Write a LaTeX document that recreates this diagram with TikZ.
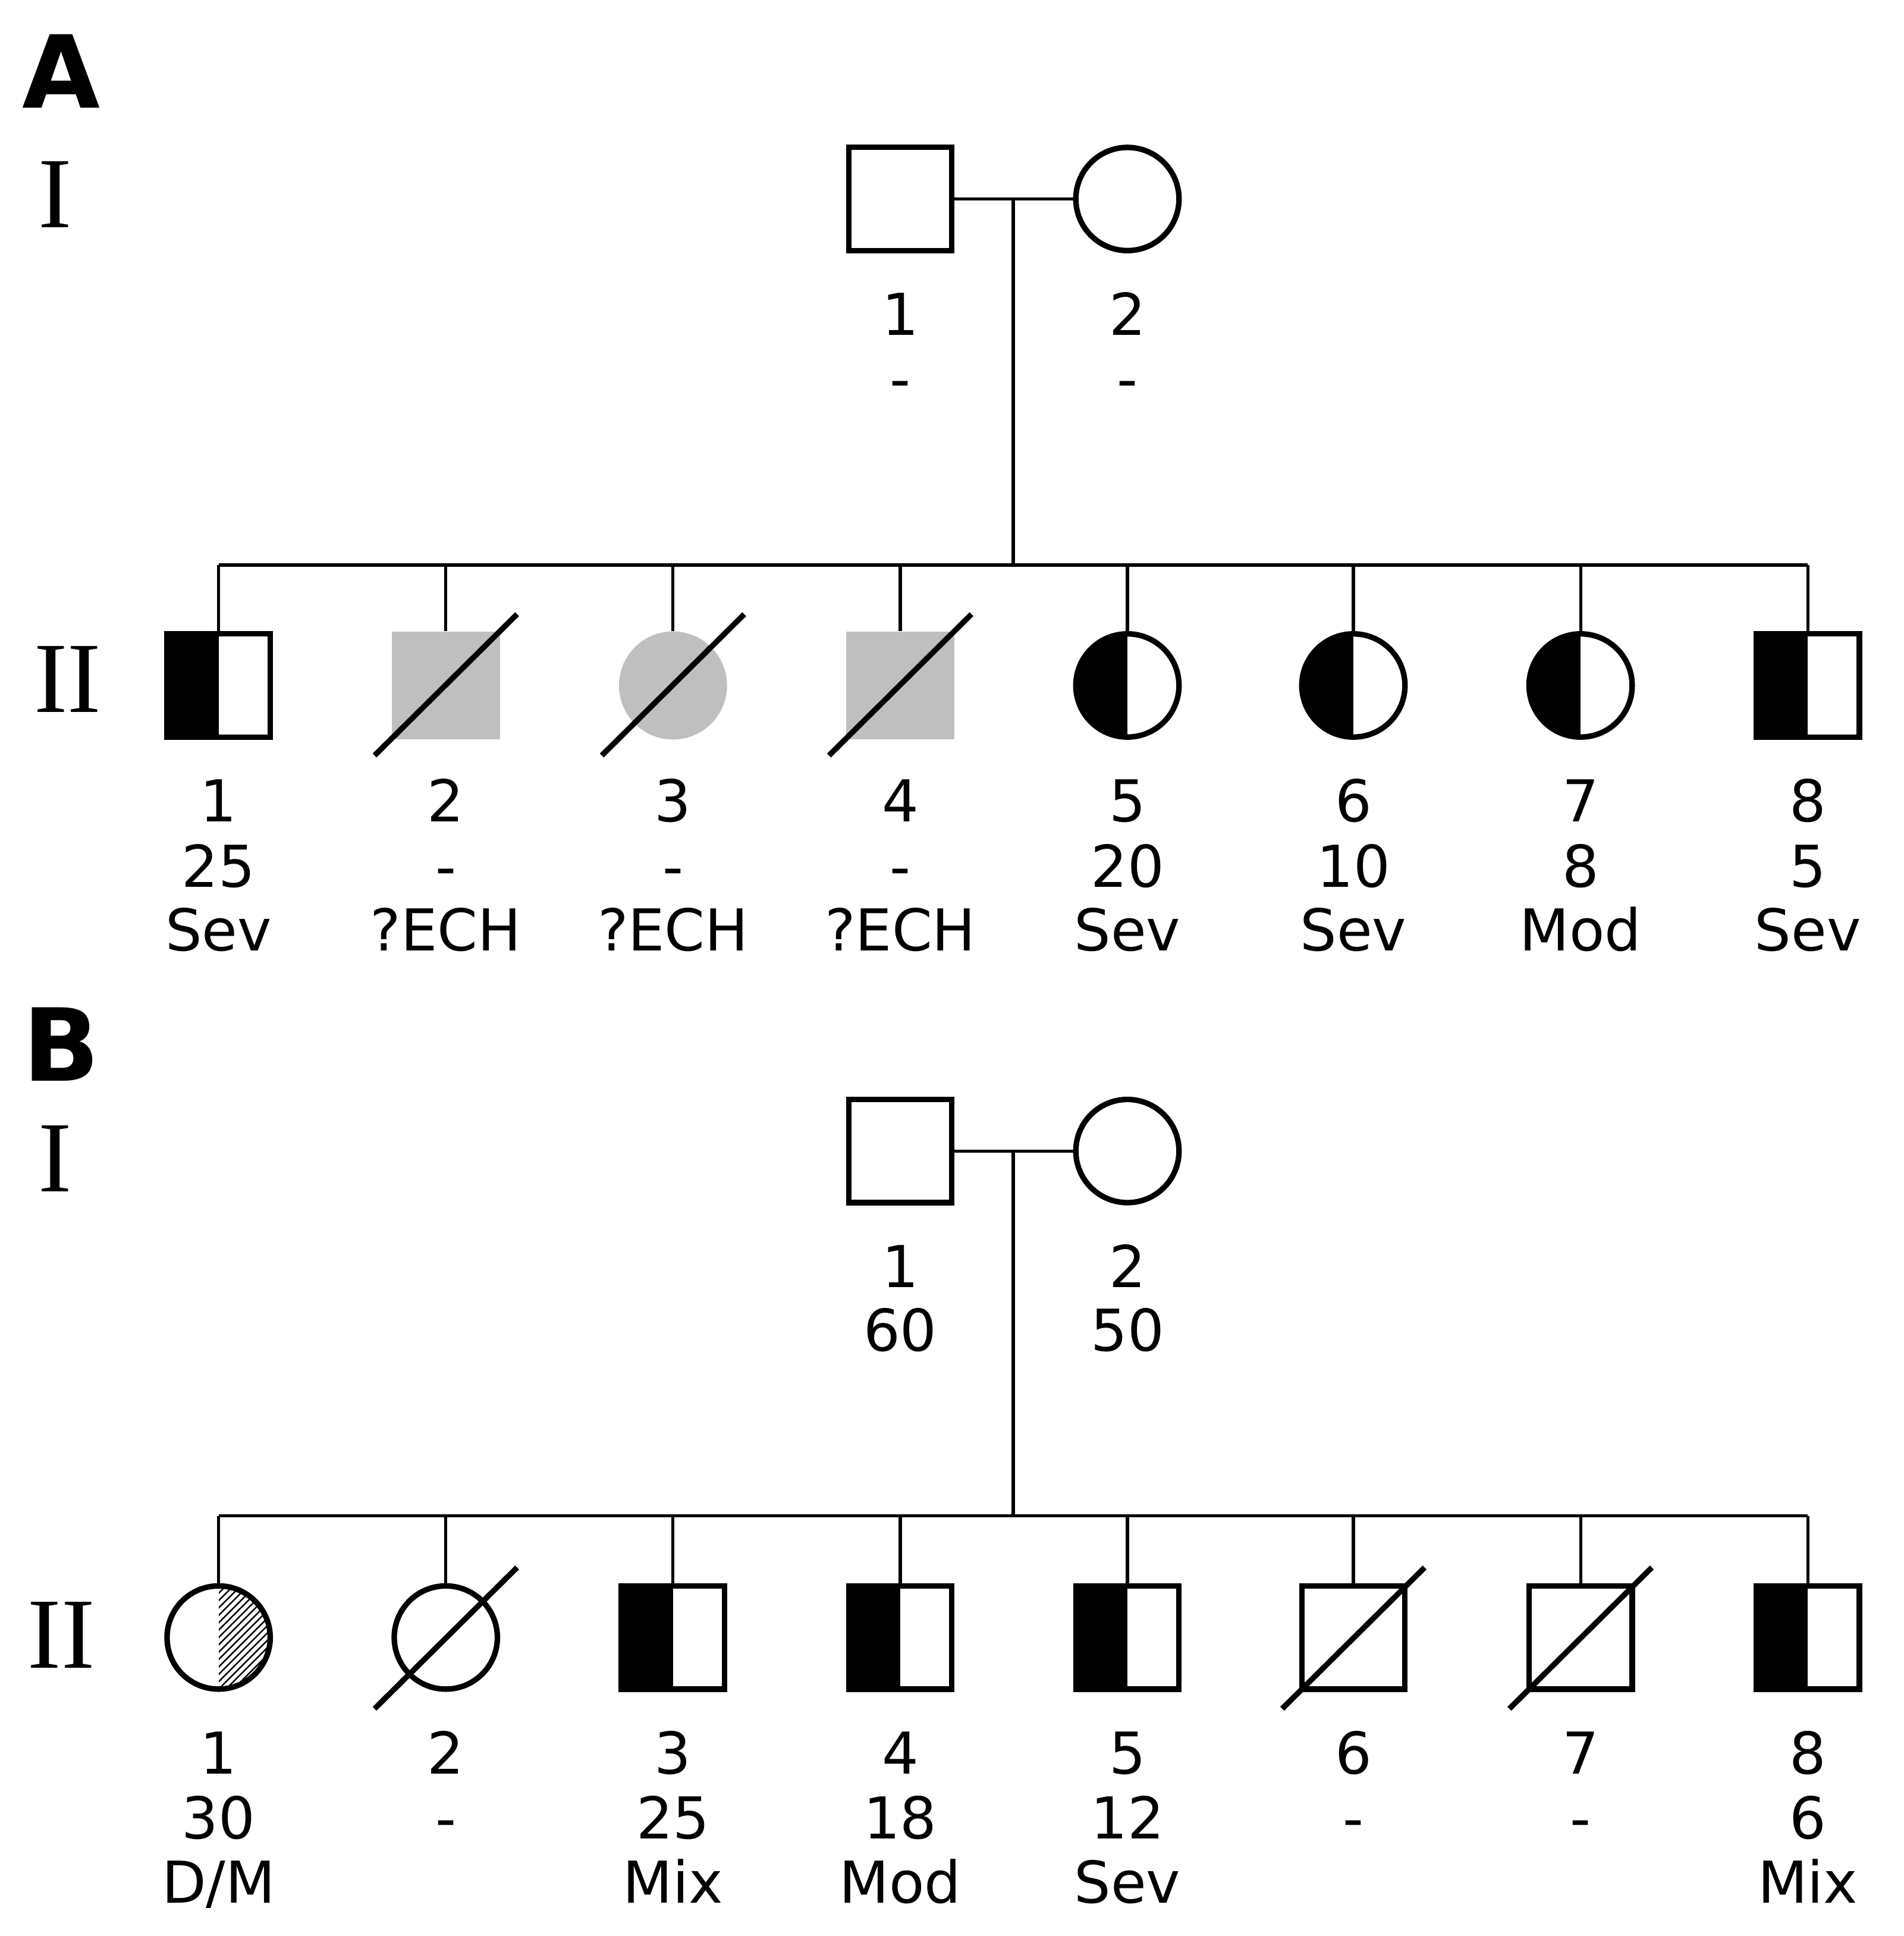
\documentclass[tikz,border=0pt]{standalone}
\usepackage{fontspec}
\setmainfont{DejaVu Sans}
\newfontfamily\romfont{Liberation Serif}
\begin{document}
\begin{tikzpicture}[x=1pt,y=-1pt,
 sym/.style={draw,line width=4.5pt,minimum size=84pt,inner sep=0pt},
 sq/.style={sym,rectangle},
 ci/.style={sym,circle},
 hl/.style={path picture={\fill (path picture bounding box.south west) rectangle (path picture bounding box.north);}},
 hatch/.style={path picture={\foreach \k in {-90,-84,...,90}{\draw[line width=1.2pt] ([xshift=\k pt]path picture bounding box.center) ++(-50,50) -- ++(100,-100);}
   \fill[white] (path picture bounding box.south west) rectangle (path picture bounding box.north);}},
 gsq/.style={rectangle,fill=black!25,minimum size=88pt,inner sep=0pt},
 gci/.style={circle,fill=black!25,minimum size=88pt,inner sep=0pt},
 conn/.style={line width=2.5pt},
 dec/.style={line width=4.5pt},
 lab/.style={font=\fontsize{47}{50}\selectfont,anchor=base},
 gen/.style={font=\romfont\fontsize{82}{82}\selectfont,anchor=base},
 pan/.style={font=\bfseries\fontsize{82}{82}\selectfont,anchor=base}]
\useasboundingbox (0,0) rectangle (1550,1576);
% ---------- A ----------
\node[pan] (pA) at (50,88) {A};
\node[gen] (gAI) at (45,185) {I};
\node[gen] (gAII) at (55,580) {II};
\node[sq] (a1) at (733,162) {};
\node[ci] (a2) at (918,162) {};
\draw[conn] (a1.east) -- (a2.west);
\coordinate (am) at (825,162);
\coordinate (as) at (825,460);
\draw[conn] (am) -- (as);
\coordinate (asl) at (178,460); \coordinate (asr) at (1472,460);
\draw[conn] (asl) -- (asr);
\node[lab] at (733,273) {1}; \node[lab] at (733,325) {-};
\node[lab] at (918,273) {2}; \node[lab] at (918,325) {-};
\node[sq,hl] (b1) at (178,558) {};
\node[gsq] (b2) at (363,558) {};
\node[gci] (b3) at (548,558) {};
\node[gsq] (b4) at (733,558) {};
\node[ci,hl] (b5) at (918,558) {};
\node[ci,hl] (b6) at (1102,558) {};
\node[ci,hl] (b7) at (1287,558) {};
\node[sq,hl] (b8) at (1472,558) {};
\foreach \n/\x in {1/178,2/363,3/548,4/733,5/918,6/1102,7/1287,8/1472}{
  \coordinate (at\n) at (\x,460);
  \draw[conn] (at\n) -- (b\n.north);}
\foreach \x in {363,548,733}{\draw[dec] (\x-58,615) -- (\x+58,500);}
\foreach \x/\a/\b/\c in {178/1/25/Sev,363/2/-/?ECH,548/3/-/?ECH,733/4/-/?ECH,918/5/20/Sev,1102/6/10/Sev,1287/7/8/Mod,1472/8/5/Sev}{
  \node[lab] at (\x,669) {\a}; \node[lab] at (\x,722) {\b}; \node[lab] at (\x,774) {\c};}
% ---------- B ----------
\node[pan] (pB) at (50,880) {B};
\node[gen] (gBI) at (45,970) {I};
\node[gen] (gBII) at (50,1358) {II};
\node[sq] (c1) at (733,937) {};
\node[ci] (c2) at (918,937) {};
\draw[conn] (c1.east) -- (c2.west);
\coordinate (bm) at (825,937);
\coordinate (bs) at (825,1234);
\draw[conn] (bm) -- (bs);
\coordinate (bsl) at (178,1234); \coordinate (bsr) at (1472,1234);
\draw[conn] (bsl) -- (bsr);
\node[lab] at (733,1048) {1}; \node[lab] at (733,1100) {60};
\node[lab] at (918,1048) {2}; \node[lab] at (918,1100) {50};
\node[ci,hatch] (d1) at (178,1333) {};
\node[ci] (d2) at (363,1333) {};
\node[sq,hl] (d3) at (548,1333) {};
\node[sq,hl] (d4) at (733,1333) {};
\node[sq,hl] (d5) at (918,1333) {};
\node[sq] (d6) at (1102,1333) {};
\node[sq] (d7) at (1287,1333) {};
\node[sq,hl] (d8) at (1472,1333) {};
\foreach \n/\x in {1/178,2/363,3/548,4/733,5/918,6/1102,7/1287,8/1472}{
  \coordinate (bt\n) at (\x,1234);
  \draw[conn] (bt\n) -- (d\n.north);}
\foreach \x in {363,1102,1287}{\draw[dec] (\x-58,1391) -- (\x+58,1276);}
\foreach \x/\a/\b/\c in {178/1/30/D\slash M,363/2/-/,548/3/25/Mix,733/4/18/Mod,918/5/12/Sev,1102/6/-/,1287/7/-/,1472/8/6/Mix}{
  \node[lab] at (\x,1444) {\a}; \node[lab] at (\x,1497) {\b}; \node[lab] at (\x,1549) {\c};}
\end{tikzpicture}
\end{document}
